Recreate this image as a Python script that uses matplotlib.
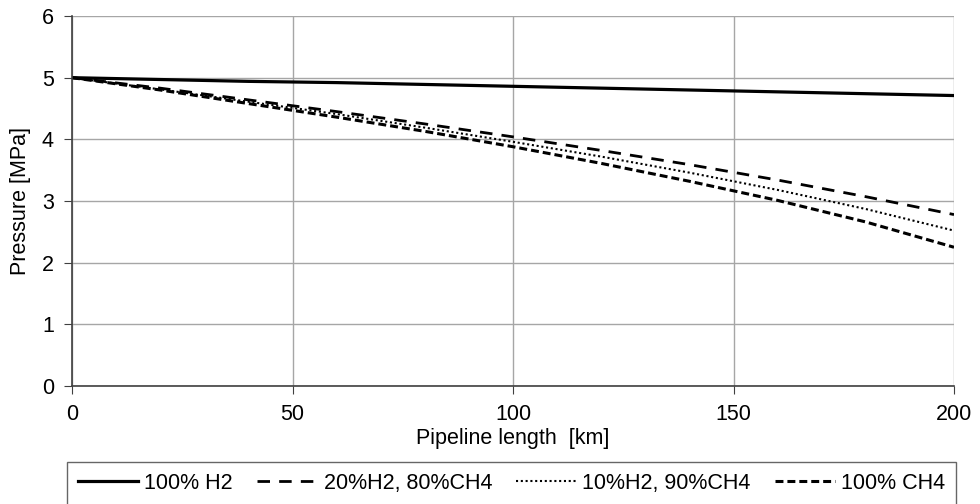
import matplotlib
matplotlib.use("Agg")
import matplotlib.pyplot as plt

plt.rcParams['font.family'] = ['Liberation Sans', 'DejaVu Sans']

# Pipeline length [km]
length_km = [0, 20, 40, 60, 80, 100, 120, 140, 160, 180, 200]

# Pressure [MPa]
p_h2 = [5.00, 4.97, 4.94, 4.92, 4.89, 4.86, 4.83, 4.80, 4.77, 4.74, 4.71]
p_20h2 = [5.00, 4.83, 4.64, 4.45, 4.25, 4.04, 3.82, 3.59, 3.34, 3.07, 2.78]
p_10h2 = [5.00, 4.81, 4.61, 4.41, 4.19, 3.96, 3.72, 3.46, 3.18, 2.87, 2.52]
p_ch4 = [5.00, 4.80, 4.58, 4.36, 4.13, 3.88, 3.61, 3.32, 3.01, 2.66, 2.25]

labels = ['100% H2', '20%H2, 80%CH4', '10%H2, 90%CH4', '100% CH4']

fig = plt.figure(figsize=(9.8, 5.04), dpi=100)
ax = fig.add_axes([72 / 980, 1 - 386 / 504, 882 / 980, 370 / 504])

ax.plot(length_km, p_h2, color='black', lw=2.3, label=labels[0])
ax.plot(length_km, p_20h2, color='black', lw=2.0, linestyle=(0, (4.5, 3.3)), label=labels[1])
ax.plot(length_km, p_10h2, color='black', lw=1.5, linestyle=(0, (1, 1.3)), label=labels[2])
ax.plot(length_km, p_ch4, color='black', lw=2.2, linestyle=(0, (2.6, 1.3)), label=labels[3])

ax.set_xlim(0, 200)
ax.set_ylim(0, 6)
ax.set_xticks([0, 50, 100, 150, 200])
ax.set_yticks(range(0, 7))
ax.grid(True, color='#a6a6a6', lw=1.0)
ax.set_axisbelow(True)
for side in ['top', 'right']:
    ax.spines[side].set_visible(False)
for side in ['left', 'bottom']:
    ax.spines[side].set_color('#404040')
    ax.spines[side].set_linewidth(1.2)
ax.tick_params(axis='both', labelsize=15.5, length=6, direction='out',
               color='#404040', pad=7)

ax.set_xlabel('Pipeline length  [km]', fontsize=15.5, labelpad=2)
ax.set_ylabel('Pressure [MPa]', fontsize=15.5, labelpad=8)

leg = fig.legend(loc='upper center', bbox_to_anchor=(0.522, 1 - 462 / 504), ncol=4,
                 fontsize=15.5, frameon=True, fancybox=False, edgecolor='#404040',
                 handlelength=2.8, handletextpad=0.3, columnspacing=1.1,
                 borderpad=0.5, borderaxespad=0)
leg.get_frame().set_linewidth(1.0)

fig.savefig('out.png', dpi=100)
